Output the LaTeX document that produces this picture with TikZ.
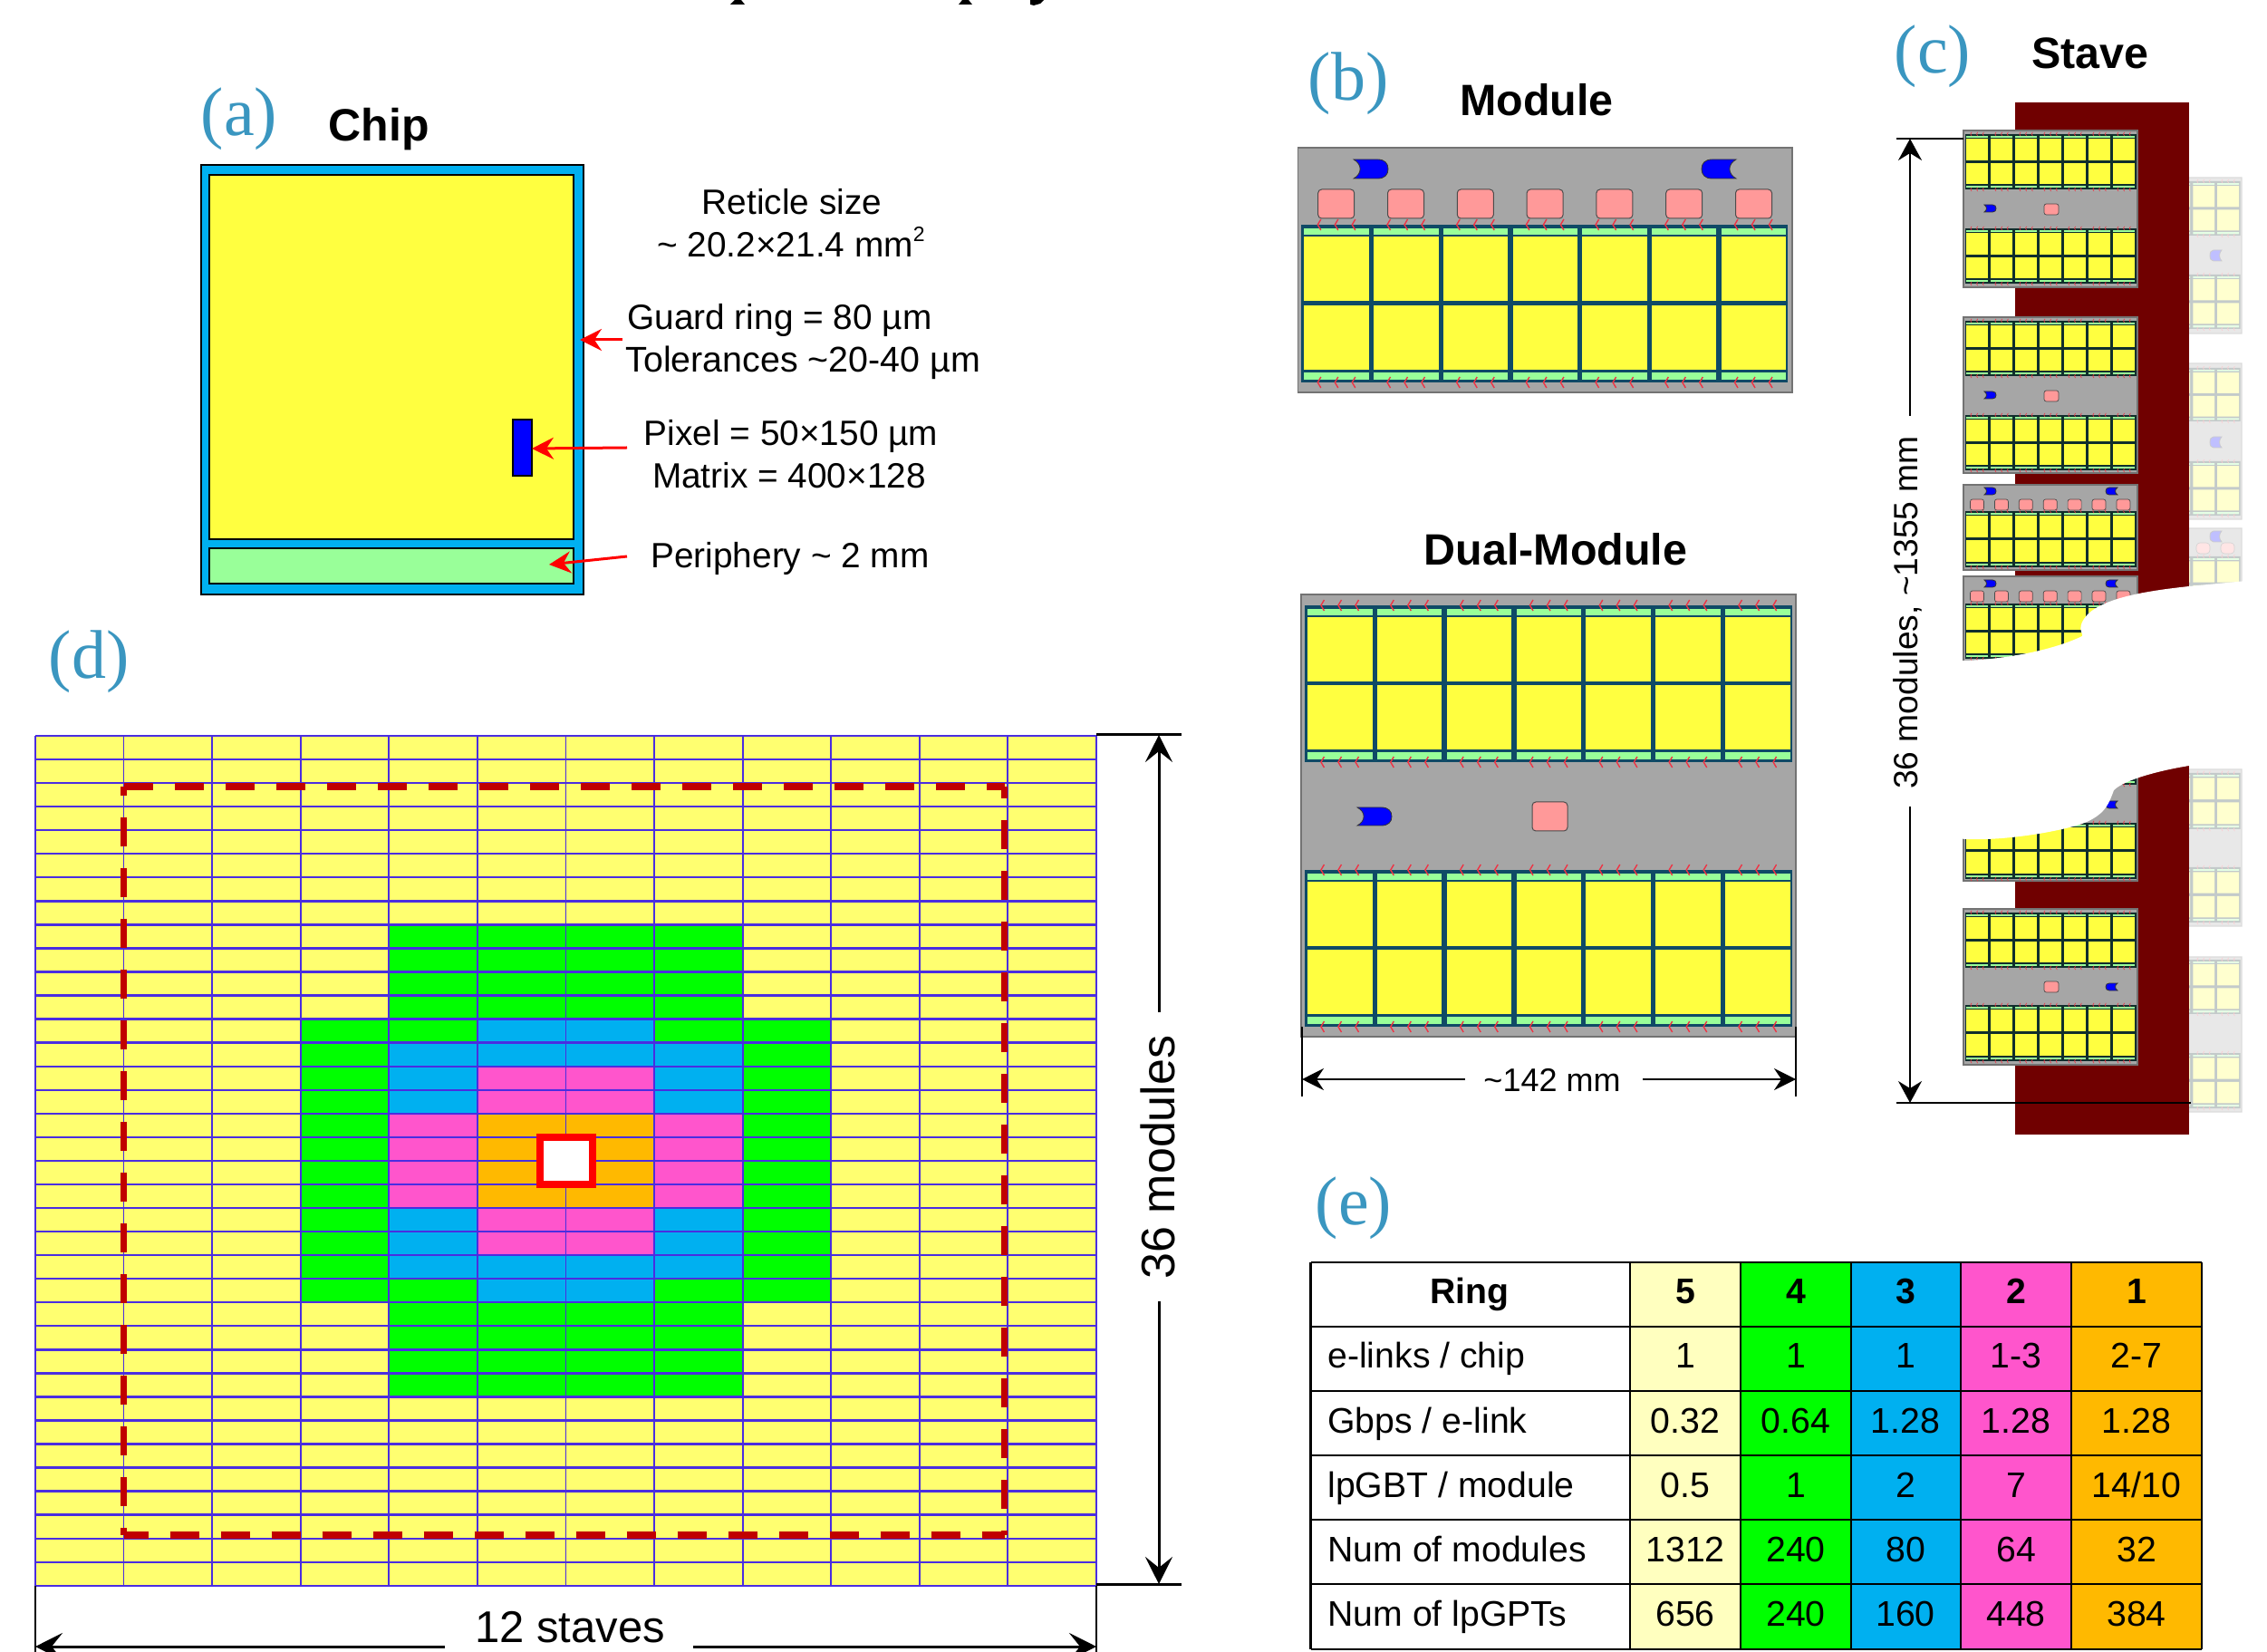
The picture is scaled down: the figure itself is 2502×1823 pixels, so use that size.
\documentclass[tikz,border=0pt]{standalone}
\usepackage{fontspec}
\setmainfont{Liberation Sans}
\newfontfamily\lblfont{Liberation Serif}
\usetikzlibrary{arrows.meta}
\definecolor{ringfive}{HTML}{FFFF70}
\definecolor{ringfivepale}{HTML}{FFFFBF}
\definecolor{ringfour}{HTML}{00FF00}
\definecolor{ringthree}{HTML}{00B0F0}
\definecolor{ringtwo}{HTML}{FF55CC}
\definecolor{ringone}{HTML}{FFB900}
\definecolor{gridblue}{HTML}{4A2DE0}
\definecolor{dashred}{HTML}{C00000}
\definecolor{stavered}{HTML}{700000}
\definecolor{chipgreen}{HTML}{99FF99}
\definecolor{chipyellow}{HTML}{FFFF40}
\definecolor{modgray}{HTML}{A6A6A6}
\definecolor{modpink}{HTML}{FF9999}
\definecolor{backing}{HTML}{0F4A66}
\definecolor{stavebacking}{HTML}{102E2C}
\definecolor{lblblue}{HTML}{3A96C0}
\definecolor{markred}{HTML}{EE3344}
\tikzset{
  panellabel/.style={anchor=center,inner sep=0pt,text=lblblue,font=\lblfont\fontsize{38}{38}\selectfont},
  titletext/.style={anchor=base,inner sep=0pt,font=\bfseries\fontsize{24.2}{24}\selectfont},
  bodytext/.style={anchor=base,inner sep=0pt,font=\fontsize{19.4}{20}\selectfont},
  dimarrow/.style={line width=1.5pt,-{Stealth[length=15pt,width=15pt,inset=6pt]}},
  redarrow/.style={draw=red,line width=1.5pt,-{Stealth[length=12pt,width=12pt,inset=4pt]}},
  dimline/.style={draw=black,line width=1.3pt},
  pinkchip/.style={fill=modpink,draw=black!70,line width=0.5pt,rounded corners=2pt},
  bluechip/.style={fill=blue,draw=black!80,line width=0.4pt},
  graybox/.style={fill=modgray,draw=black!55,line width=0.6pt},
  dashedge/.style={draw=dashred,line width=3.7pt,dash pattern=on 16pt off 12pt},
  tablecell/.style={draw=black,line width=1.1pt},
  tabletext/.style={anchor=base,inner sep=0pt,font=\fontsize{19.6}{20}\selectfont},
}
% half module: two rows of seven chips, drawn in a local 537 x 174 box
% #1 x0, #2 y0, #3 width, #4 height, #5 mark line width
\def\hmback{backing}\def\hmins{0}
\newcommand{\halfmod}[5]{%
  \pgfmathsetmacro{\hmx}{#3/537}\pgfmathsetmacro{\hmy}{#4/174}%
  \begin{scope}[shift={(#1,#2)},xscale=\hmx,yscale=\hmy]
    \fill[\hmback] (0,0) rectangle (537,174);
    \foreach \c in {0,...,6}{
      \pgfmathsetmacro{\xa}{\c*76.7+3+\hmins}\pgfmathsetmacro{\xb}{\c*76.7+74.5-\hmins}
      \fill[chipgreen] (\xa,4+\hmins) rectangle (\xb,11);
      \fill[chipyellow] (\xa,13+\hmins) rectangle (\xb,84-\hmins);
      \fill[chipyellow] (\xa,89+\hmins) rectangle (\xb,160-\hmins);
      \fill[chipgreen] (\xa,163) rectangle (\xb,171-\hmins);
      \foreach \d in {-19,0,19}{
        \pgfmathsetmacro{\xm}{\c*76.7+38.4+\d}
        \draw[markred,line width=#5] (\xm+2,-6) -- (\xm-1.5,0) -- (\xm+2,6);
        \draw[markred,line width=#5] (\xm+2,168) -- (\xm-1.5,174) -- (\xm+2,180);
      }
    }
  \end{scope}%
}
% link connector: concave end at x #1, round end at x #2
\newcommand{\linkchip}[4]{%
  \pgfmathsetmacro{\lkw}{#2-#1}\pgfmathsetmacro{\lkh}{#4-#3}%
  \draw[bluechip,shift={(#1,#3)},xscale=\lkw,yscale=\lkh]
    (0,0) -- (0.7,0) .. controls (0.9,0) and (1,0.2) .. (1,0.5)
    .. controls (1,0.8) and (0.9,1) .. (0.7,1) -- (0,1)
    .. controls (0.25,0.75) and (0.25,0.25) .. (0,0) -- cycle;%
}
% full-width stave dual module: #1 box top, #2 box bottom, #3/#4 top grid y range, #5/#6 bottom grid y range
\newcommand{\stavedual}[6]{%
  \draw[graybox] (2167,#1) rectangle (2359,#2);
  \pgfmathsetmacro{\gha}{#4-#3}\pgfmathsetmacro{\ghb}{#6-#5}%
  \halfmod{2168.5}{#3}{189}{\gha}{0.3pt}
  \halfmod{2168.5}{#5}{189}{\ghb}{0.3pt}%
}
\newcommand{\stavesingle}[4]{%
  \draw[graybox] (2167,#1) rectangle (2359,#2);
  \pgfmathsetmacro{\gha}{#4-#3}%
  \halfmod{2168.5}{#3}{189}{\gha}{0.3pt}%
}
\begin{document}
\begin{tikzpicture}[x=0.5pt,y=-0.5pt]
\useasboundingbox (0,0) rectangle (2502,1823);
\clip (0,0) rectangle (2502,1823);
\fill[white] (0,0) rectangle (2502,1823);

%% ---------- cut-off heading remains at the top edge ----------
\fill[black] (811,0) -- (818,0) -- (822,5) -- (806,5) -- cycle;
\fill[black] (1062,0) -- (1069,0) -- (1073,5) -- (1058,5) -- cycle;
\fill[black] (1137,0) -- (1152,0) -- (1148,4) -- (1141,6) -- (1137,5) -- cycle;

%% ---------- (a) Chip ----------
\node[panellabel] (labela) at (264,131) {(a)};
\node[titletext,font=\bfseries\fontsize{25}{25}\selectfont] (chiptitle) at (418,156) {Chip};
\draw[fill=ringthree,draw=black,line width=0.8pt] (222,182) rectangle (644,656);
\draw[fill=chipyellow,draw=black,line width=1pt] (231,193) rectangle (633,595);
\draw[fill=chipgreen,draw=black,line width=1pt] (231,605) rectangle (633,644);
\draw[fill=blue,draw=black,line width=0.7pt] (566,463) rectangle (587,525);
\node[bodytext] (reticle) at (874,237) {Reticle size};
\node[bodytext] (reticlesize) at (873,284) {\textasciitilde{} 20.2×21.4 mm\raisebox{8.5pt}{\fontsize{11.5}{12}\selectfont 2}};
\node[bodytext,anchor=base west] (guard) at (692,364) {Guard ring = 80 µm};
\node[bodytext,anchor=base west,font=\fontsize{19.7}{20}\selectfont] (toler) at (690,411) {Tolerances \textasciitilde20-40 µm};
\node[bodytext] (pixeltext) at (873,492) {Pixel = 50×150 µm};
\node[bodytext] (matrix) at (871,539) {Matrix = 400×128};
\node[bodytext] (periph) at (872,627) {Periphery \textasciitilde{} 2 mm};
\coordinate (guardfrom) at (687,375); \coordinate (guardtip) at (640,375);
\coordinate (pixfrom) at (692,494); \coordinate (pixtip) at (587,495);
\coordinate (perfrom) at (692,614); \coordinate (pertip) at (606,623);
\draw[redarrow] (guardfrom) -- (guardtip);
\draw[redarrow] (pixfrom) -- (pixtip);
\draw[redarrow] (perfrom) -- (pertip);

%% ---------- (b) Module ----------
\node[panellabel] (labelb) at (1488,92) {(b)};
\node[titletext] (modtitle) at (1696,128) {Module};
\draw[graybox] (1432.6,163) rectangle (1978,433);
\foreach \i in {0,...,6}{
  \pgfmathsetmacro{\cx}{1474.7+76.8*\i}
  \draw[pinkchip] (\cx-20,209) rectangle (\cx+20,241);
}
\linkchip{1494}{1532}{176}{197}
\linkchip{1916}{1878}{176}{197}
\halfmod{1436.4}{248}{537}{174}{0.7pt}

%% ---------- Dual module ----------
\node[titletext] (dualtitle) at (1717,624) {Dual-Module};
\draw[graybox] (1436,656) rectangle (1982,1144);
\halfmod{1440}{668}{538}{173}{0.7pt}
\halfmod{1440}{960}{538}{173}{0.7pt}
\linkchip{1498}{1536}{891}{911}
\draw[pinkchip] (1691,885) rectangle (1730,917);
\coordinate (dl1) at (1437,1133); \coordinate (dl2) at (1437,1210);
\coordinate (dr1) at (1982,1133); \coordinate (dr2) at (1982,1210);
\draw[dimline] (dl1) -- (dl2);
\draw[dimline] (dr1) -- (dr2);
\node[bodytext,font=\fontsize{18}{18}\selectfont] (width142) at (1713,1204) {\textasciitilde142 mm};
\coordinate (wl1) at (1617,1191); \coordinate (wl2) at (1437,1191);
\coordinate (wr1) at (1813,1191); \coordinate (wr2) at (1982,1191);
\draw[line width=0.9pt,-{Stealth[length=12pt,width=12pt,inset=4pt]}] (wl1) -- (wl2);
\draw[line width=0.9pt,-{Stealth[length=12pt,width=12pt,inset=4pt]}] (wr1) -- (wr2);

%% ---------- (c) Stave ----------
\node[panellabel] (labelc) at (2133,62) {(c)};
\node[titletext] (stavetitle) at (2307,76) {Stave};
\fill[stavered] (2224,113) rectangle (2416,1252);
\begingroup
\def\hmback{stavebacking}\def\hmins{2}
% faded neighbour stave
\begin{scope}
\clip (2416,113) rectangle (2480,1252);
\begin{scope}[shift={(115,0)},opacity=0.25,transparency group]
  \stavedual{196}{368}{200}{260}{303}{363}
  \linkchip{2337}{2324}{276}{288}
  \stavedual{401}{573}{406}{465}{509}{569}
  \linkchip{2337}{2324}{482}{494}
  \stavesingle{583}{677}{614}{675}
  \linkchip{2337}{2324}{586}{598}
  \foreach \i in {5,6}{
    \pgfmathsetmacro{\cx}{2182+27*\i}
    \draw[pinkchip,line width=0.3pt] (\cx-8,599) rectangle (\cx+7,611);
  }
  \stavedual{849}{1022}{853}{915}{957}{1018}
  \stavedual{1056}{1227}{1059}{1119}{1162}{1223}
\end{scope}
\end{scope}
% stave modules
\stavedual{144}{317}{148}{209}{252}{313}
\linkchip{2190}{2203}{226}{234}
\draw[pinkchip,line width=0.35pt,rounded corners=1.2pt] (2256,225) rectangle (2272,237);
\stavedual{350}{522}{354}{415}{458}{519}
\linkchip{2190}{2203}{432}{440}
\draw[pinkchip,line width=0.35pt,rounded corners=1.2pt] (2256,431) rectangle (2272,443);
\stavesingle{535}{629}{564}{626}
\linkchip{2190}{2203}{538}{546}
\linkchip{2337}{2324}{538}{546}
\foreach \i in {0,...,6}{
  \pgfmathsetmacro{\cx}{2182+26.9*\i}
  \draw[pinkchip,line width=0.35pt,rounded corners=1.2pt] (\cx-7.5,551) rectangle (\cx+7.5,563);
}
\stavesingle{636}{730}{666}{727}
\linkchip{2190}{2203}{640}{648}
\linkchip{2337}{2324}{640}{648}
\foreach \i in {0,...,6}{
  \pgfmathsetmacro{\cx}{2182+26.9*\i}
  \draw[pinkchip,line width=0.35pt,rounded corners=1.2pt] (\cx-7.5,652) rectangle (\cx+7.5,664);
}
\stavedual{799}{972}{804}{866}{908}{970}
\linkchip{2337}{2324}{884}{892}
\stavedual{1003}{1175}{1007}{1068}{1109}{1171}
\draw[pinkchip,line width=0.35pt,rounded corners=1.2pt] (2256,1083) rectangle (2272,1095);
\linkchip{2337}{2324}{1085}{1093}
\endgroup
% the torn-out white gap
\fill[white] (2490,640) -- (2416,647)
  .. controls (2370,652) and (2315,660) .. (2300,683)
  .. controls (2292,695) and (2300,700) .. (2298,702)
  .. controls (2265,718) and (2210,728) .. (2167,729) -- (2138,735) -- (2138,880)
  .. controls (2140,915) and (2150,925) .. (2170,926)
  .. controls (2220,928) and (2285,915) .. (2303,907)
  .. controls (2325,897) and (2328,885) .. (2333,872)
  .. controls (2345,860) and (2385,850) .. (2416,845)
  -- (2490,848) -- cycle;
% dimension
\coordinate (st1) at (2093,153); \coordinate (st2) at (2167,153);
\coordinate (sb1) at (2093,1217); \coordinate (sb2) at (2418,1217);
\draw[dimline] (st1) -- (st2);
\draw[dimline] (sb1) -- (sb2);
\node[bodytext,font=\fontsize{18.6}{19}\selectfont,rotate=90] (stavelen) at (2116,676) {36 modules, \textasciitilde1355 mm};
\coordinate (sa1) at (2108,459); \coordinate (sa2) at (2108,153);
\coordinate (sa3) at (2108,890); \coordinate (sa4) at (2108,1217);
\draw[line width=0.9pt,-{Stealth[length=12pt,width=13pt,inset=4pt]}] (sa1) -- (sa2);
\draw[line width=0.9pt,-{Stealth[length=12pt,width=13pt,inset=4pt]}] (sa3) -- (sa4);

%% ---------- (d) Map ----------
\node[panellabel] (labeld) at (98,730) {(d)};
\newcommand{\ringcells}[5]{% colour, col from, col to+1, row from, row to+1
  \fill[#1] ({39+97.58*#2},{812+26.05*#4}) rectangle ({39+97.58*#3},{812+26.05*#5});}
\ringcells{ringfive}{0}{12}{0}{36}
\ringcells{ringfour}{4}{8}{8}{12}
\ringcells{ringfour}{3}{9}{12}{24}
\ringcells{ringfour}{4}{8}{24}{28}
\ringcells{ringthree}{5}{7}{12}{13}
\ringcells{ringthree}{4}{8}{13}{16}
\ringcells{ringtwo}{5}{7}{14}{16}
\ringcells{ringtwo}{4}{8}{16}{20}
\ringcells{ringone}{5}{7}{16}{20}
\ringcells{ringthree}{4}{8}{20}{23}
\ringcells{ringtwo}{5}{7}{20}{22}
\ringcells{ringthree}{5}{7}{23}{24}
\foreach \r in {0,...,36}{
  \draw[gridblue,line width=1.2pt] ({39},{812+26.05*\r}) -- ({1210},{812+26.05*\r});
}
\foreach \c in {0,...,12}{
  \draw[gridblue,line width=0.9pt] ({39+97.58*\c},812) -- ({39+97.58*\c},1750);
}
\draw[fill=white,draw=red,line width=4pt] (596,1255) rectangle (654,1307);
\coordinate (dtl) at (136.5,868); \coordinate (dtr) at (1108.5,868);
\coordinate (dbl) at (136.5,1694); \coordinate (dbr) at (1108.5,1694);
\draw[dashedge] (dtl) -- (dtr);
\draw[dashedge,dash phase=2.5pt] (dbl) -- (dbr);
\draw[dashedge,dash phase=11pt] (dtl) -- (dbl);
\draw[dashedge,dash phase=13.5pt] (dbr) -- (dtr);
\coordinate (m1) at (1210,811); \coordinate (m2) at (1304,811);
\coordinate (m3) at (1210,1748); \coordinate (m4) at (1304,1748);
\draw[dimline,line width=1.5pt] (m1) -- (m2);
\draw[dimline,line width=1.5pt] (m3) -- (m4);
\node[bodytext,font=\fontsize{26}{26}\selectfont,rotate=90] (mod36) at (1296,1277) {36 modules};
\coordinate (ma1) at (1279,1117); \coordinate (ma2) at (1279,811);
\coordinate (ma3) at (1279,1436); \coordinate (ma4) at (1279,1748);
\draw[dimarrow] (ma1) -- (ma2);
\draw[dimarrow] (ma3) -- (ma4);
\coordinate (st1d) at (39,1750); \coordinate (st2d) at (39,1823);
\coordinate (st3d) at (1210,1750); \coordinate (st4d) at (1210,1823);
\draw[dimline] (st1d) -- (st2d);
\draw[dimline] (st3d) -- (st4d);
\node[bodytext,font=\fontsize{24.5}{25}\selectfont] (staves12) at (629,1812) {12 staves};
\coordinate (sa5) at (491,1817); \coordinate (sa6) at (39,1817);
\coordinate (sa7) at (765,1817); \coordinate (sa8) at (1210,1817);
\draw[dimarrow] (sa5) -- (sa6);
\draw[dimarrow] (sa7) -- (sa8);

%% ---------- (e) Table ----------
\node[panellabel] (labele) at (1494,1333) {(e)};
\def\ta{1446.5}\def\tb{1799}\def\tc{1921}\def\td{2043}\def\te{2164}\def\tf{2286}\def\tg{2430}
\fill[white] (\ta,1393) rectangle (\tb,1820);
\fill[ringfivepale] (\tb,1393) rectangle (\tc,1820);
\fill[ringfour] (\tc,1393) rectangle (\td,1820);
\fill[ringthree] (\td,1393) rectangle (\te,1820);
\fill[ringtwo] (\te,1393) rectangle (\tf,1820);
\fill[ringone] (\tf,1393) rectangle (\tg,1820);
\foreach \x in {\ta,\tb,\tc,\td,\te,\tf,\tg}{
  \draw[tablecell] (\x,1393) -- (\x,1820);
}
\foreach \y in {1393,1464,1535,1606,1677,1748,1820}{
  \draw[tablecell,line width=1.4pt] (\ta,\y) -- (\tg,\y);
}
\node[tabletext,font=\bfseries\fontsize{19.6}{20}\selectfont] (ringhead) at (1622,1438) {Ring};
\foreach \n/\t/\y in {a/{e-links / chip}/1509,b/{Gbps / e-link}/1581,c/{lpGBT / module}/1652,d/Num of modules/1723,e/Num of lpGPTs/1794}{
  \node[tabletext,anchor=base west] (rowlabel\n) at (1465,\y) {\t};
}
\foreach \n/\x/\t in {a/1860/5,b/1982/4,c/2103/3,d/2225/2,e/2358/1}{
  \node[tabletext,font=\bfseries\fontsize{19.6}{20}\selectfont] (head\n) at (\x,1438) {\t};
}
\foreach \n/\x/\t in {a/1860/1,b/1982/1,c/2103/1,d/2225/1-3,e/2358/2-7}{
  \node[tabletext] (linkc\n) at (\x,1509) {\t};
}
\foreach \n/\x/\t in {a/1860/0.32,b/1982/0.64,c/2103/1.28,d/2225/1.28,e/2358/1.28}{
  \node[tabletext] (gbps\n) at (\x,1581) {\t};
}
\foreach \n/\x/\t in {a/1860/0.5,b/1982/1,c/2103/2,d/2225/7,e/2358/{14/10}}{
  \node[tabletext] (lpmod\n) at (\x,1652) {\t};
}
\foreach \n/\x/\t in {a/1860/1312,b/1982/240,c/2103/80,d/2225/64,e/2358/32}{
  \node[tabletext] (nmod\n) at (\x,1723) {\t};
}
\foreach \n/\x/\t in {a/1860/656,b/1982/240,c/2103/160,d/2225/448,e/2358/384}{
  \node[tabletext] (nlp\n) at (\x,1794) {\t};
}
\end{tikzpicture}
\end{document}
